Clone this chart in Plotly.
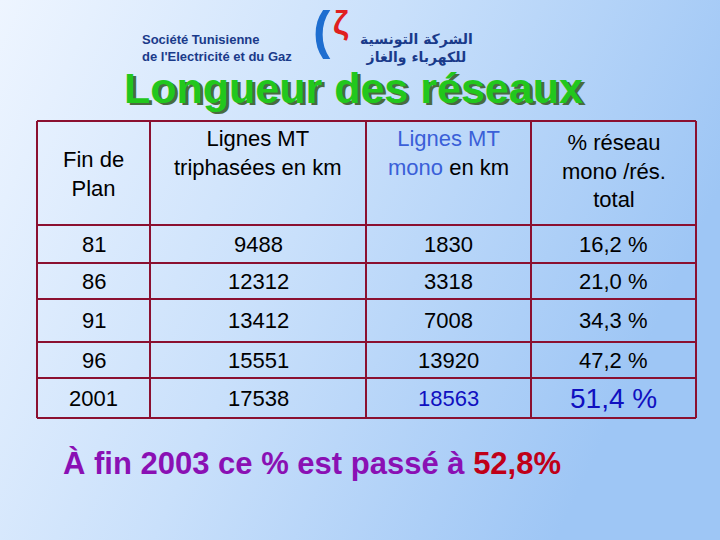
import plotly.graph_objects as go
import base64

fin_plan = ["81", "86", "91", "96", "2001"]
tri_km = [9488, 12312, 13412, 15551, 17538]
mono_km = [1830, 3318, 7008, 13920, 18563]
pct_mono = ["16,2 %", "21,0 %", "34,3 %", "47,2 %", "51,4 %"]
headers = ["Fin de<br>Plan", "Lignes MT<br>triphasées en km",
           "<span style='color:#3a5fd8'>Lignes MT</span><br><span style='color:#3a5fd8'>mono</span> en km",
           "% réseau<br>mono /rés.<br>total"]

col_edges = [37, 150, 366, 531, 696]
row_edges = [121, 225, 263, 299, 342, 378, 418]
BORDER = "#8b1030"
FONT = "Liberation Sans, Arial, sans-serif"

svg = """<svg xmlns='http://www.w3.org/2000/svg' width='720' height='540'>
<defs><linearGradient id='g' x1='0' y1='0' x2='1' y2='0.35'>
<stop offset='0' stop-color='#eef5ff'/><stop offset='0.5' stop-color='#c9e0fb'/>
<stop offset='1' stop-color='#9ec6f5'/></linearGradient></defs>
<rect width='720' height='540' fill='url(#g)'/></svg>"""
bg = "data:image/svg+xml;base64," + base64.b64encode(svg.encode()).decode()

fig = go.Figure()
fig.add_trace(go.Scatter(x=[0, 720], y=[0, 540], mode="markers", marker=dict(opacity=0), hoverinfo="skip"))

shapes = []
for x in col_edges:
    shapes.append(dict(type="line", xref="x", yref="y", x0=x, x1=x, y0=row_edges[0], y1=row_edges[-1],
                       line=dict(color=BORDER, width=2)))
for y in row_edges:
    shapes.append(dict(type="line", xref="x", yref="y", x0=col_edges[0], x1=col_edges[-1], y0=y, y1=y,
                       line=dict(color=BORDER, width=2)))

ann = []
centers = [(col_edges[i] + col_edges[i + 1]) / 2 for i in range(4)]
for i, h in enumerate(headers):
    ytop = {0: 145, 1: 124, 2: 124, 3: 128}[i]
    ann.append(dict(x=centers[i], y=ytop, text=h, showarrow=False, xref="x", yref="y", yanchor="top",
                    font=dict(family=FONT, size=22, color="black")))
for r in range(5):
    yc = (row_edges[r + 1] + row_edges[r + 2]) / 2
    last = r == 4
    vals = [fin_plan[r], str(tri_km[r]), str(mono_km[r]), pct_mono[r]]
    for c, v in enumerate(vals):
        color = "#1010c0" if last and c >= 2 else "black"
        size = 28 if last and c == 3 else 22
        ann.append(dict(x=centers[c], y=yc, text=v, showarrow=False, xref="x", yref="y",
                        font=dict(family=FONT, size=size, color=color)))

# title with shadow
ann.append(dict(x=356, y=90, text="<b>Longueur des réseaux</b>", showarrow=False, xref="x", yref="y",
                font=dict(family=FONT, size=43, color="#4a6a40")))
ann.append(dict(x=353.5, y=87.5, text="<b>Longueur des réseaux</b>", showarrow=False, xref="x", yref="y",
                font=dict(family=FONT, size=43, color="#22c71c")))
# logo text
ann.append(dict(x=294, y=48, text="<b>Société Tunisienne<br>de l'Electricité et du Gaz</b>", showarrow=False,
                xref="x", yref="y", xanchor="right", align="left",
                font=dict(family="Liberation Sans Narrow, " + FONT, size=13, color="#1a3a8a")))
ann.append(dict(x=358, y=48, text="<b>الشركة التونسية<br>للكهرباء والغاز</b>", showarrow=False,
                xref="x", yref="y", xanchor="left",
                font=dict(family="DejaVu Sans", size=14, color="#1a3a8a")))
ann.append(dict(x=322, y=30, text="<b>(</b>", showarrow=False, xref="x", yref="y",
                font=dict(family=FONT, size=52, color="#1e6ed0")))
ann.append(dict(x=341, y=22, text="<b>ζ</b>", showarrow=False, xref="x", yref="y",
                font=dict(family=FONT, size=34, color="#e02020")))
# bottom text
ann.append(dict(x=61, y=463, xanchor="left", text="<b>À fin 2003 ce % est passé à <span style='color:#c00018'>52,8%</span></b>",
                showarrow=False, xref="x", yref="y", font=dict(family=FONT, size=31, color="#8a10b4")))

fig.update_layout(
    width=720, height=540, margin=dict(l=0, r=0, t=0, b=0),
    paper_bgcolor="#d6e8fc", plot_bgcolor="rgba(0,0,0,0)",
    xaxis=dict(range=[0, 720], visible=False, fixedrange=True),
    yaxis=dict(range=[540, 0], visible=False, fixedrange=True),
    shapes=shapes, annotations=ann, showlegend=False,
    images=[dict(source=bg, xref="paper", yref="paper", x=0, y=1, sizex=1, sizey=1,
                 sizing="stretch", layer="below")],
)
fig.write_html("out.html", config={"displayModeBar": False},
               post_script="document.body.style.margin='0';document.body.style.overflow='hidden';")
